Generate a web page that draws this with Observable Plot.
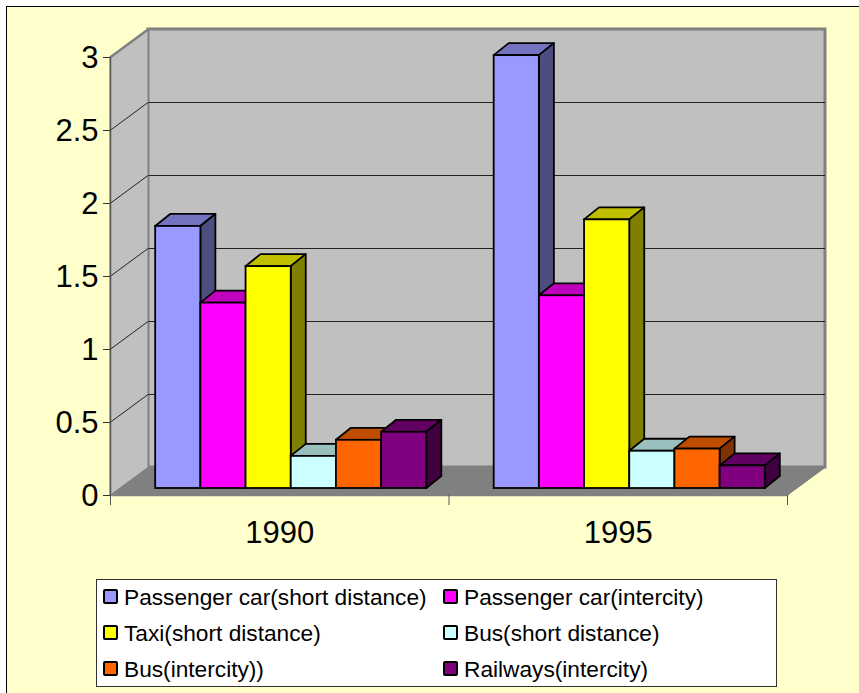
<!DOCTYPE html>
<html>
<head>
<meta charset="utf-8">
<script src="https://cdn.jsdelivr.net/npm/d3@7"></script>
<script src="https://cdn.jsdelivr.net/npm/@observablehq/plot@0.6"></script>
<style>
  html, body { margin: 0; padding: 0; background: #fff; overflow: hidden; }
  #page { position: relative; width: 859px; height: 693px; overflow: hidden; font-family: "Liberation Sans", Arial, sans-serif; }
  #sheet { position: absolute; left: 6px; top: 6px; right: 0; bottom: 0; background: #FFFFCC; border-left: 1px solid #000; border-top: 1px solid #000; }
  #chart { position: absolute; left: 0; top: 0; }
  #chart svg { display: block; background: transparent; overflow: visible; }
  #legend { position: absolute; left: 96px; top: 579px; width: 681px; height: 108px; box-sizing: border-box; background: #fff; border: 1px solid #333; }
  .item { position: absolute; height: 24px; line-height: 24px; font-size: 22.7px; color: #000; white-space: nowrap; padding-left: 27px; }
  .sw { position: absolute; left: 6px; top: 4px; width: 15px; height: 15px; box-sizing: border-box; border: 2px solid #000; border-radius: 2px; }
</style>
</head>
<body>
<div id="page"><div id="sheet"></div><div id="chart"></div><div id="legend"></div></div>
<script>
const years = ["1990", "1995"];
const seriesNames = ["Passenger car(short distance)", "Passenger car(intercity)", "Taxi(short distance)", "Bus(short distance)", "Bus(intercity))", "Railways(intercity)"];
const seriesColors = ["#9999FF", "#FF00FF", "#FFFF00", "#CCFFFF", "#FF6600", "#800080"];
const values1990 = [1.795, 1.27, 1.52, 0.22, 0.33, 0.385];
const values1995 = [2.965, 1.32, 1.84, 0.255, 0.27, 0.155];
const yTicks = [0, 0.5, 1, 1.5, 2, 2.5, 3];
const gridValues = [0.5, 1, 1.5, 2, 2.5];

// Bars sit on a category axis where each year occupies one unit of x
const barWidth = 0.1335;
const groupPad = (1 - seriesNames.length * barWidth) / 2;
const rows = [];
years.forEach((year, g) => {
  const vals = g === 0 ? values1990 : values1995;
  seriesNames.forEach((name, s) => rows.push({
    year, name, value: vals[s],
    x1: g + groupPad + s * barWidth,
    x2: g + groupPad + (s + 1) * barWidth
  }));
});

const NS = "http://www.w3.org/2000/svg";
function poly(points, fill, stroke, strokeWidth) {
  const p = document.createElementNS(NS, "polygon");
  p.setAttribute("points", points.map(d => d.join(",")).join(" "));
  p.setAttribute("fill", fill);
  p.setAttribute("stroke", stroke);
  p.setAttribute("stroke-width", strokeWidth);
  p.setAttribute("stroke-linejoin", "round");
  return p;
}
function shade(color, k) {
  const c = d3.rgb(color);
  return d3.rgb(c.r * k, c.g * k, c.b * k).formatHex();
}

// Depth of the room and of the bars, in pixels
const roomDX = 38, roomDY = -28;
const barDX = 15, barDY = -12;

// Left wall and floor, derived from the scales
function roomFaces(index, scales, values, dims, context, next) {
  const g = next(index, scales, values, dims, context);
  const L = scales.x(0), R = scales.x(years.length);
  const y0 = scales.y(0), y3 = scales.y(3);
  g.prepend(
    poly([[L, y0], [L + roomDX, y0 + roomDY], [L + roomDX, y3 + roomDY], [L, y3]], "#C0C0C0", "#808080", 1),
    poly([[L, y0], [R, y0], [R + roomDX, y0 + roomDY], [L + roomDX, y0 + roomDY]], "#808080", "#808080", 1)
  );
  return g;
}
// Turns each rule into the slanted gridline on the left wall
function slantRules(index, scales, values, dims, context, next) {
  const g = next(index, scales, values, dims, context);
  g.querySelectorAll("line").forEach(l => {
    const x = +l.getAttribute("x1"), y = +l.getAttribute("y1");
    l.setAttribute("x2", x + roomDX);
    l.setAttribute("y2", y + roomDY);
  });
  return g;
}
// Adds the top and side face behind each front rectangle
function boxFaces(index, scales, values, dims, context, next) {
  const g = next(index, scales, values, dims, context);
  [...g.querySelectorAll("rect")].forEach((r) => {
    const x = +r.getAttribute("x"), y = +r.getAttribute("y");
    const w = +r.getAttribute("width"), h = +r.getAttribute("height");
    const f = r.getAttribute("fill");
    const top = poly([[x, y], [x + barDX, y + barDY], [x + w + barDX, y + barDY], [x + w, y]], shade(f, 0.75), "#000", 1.8);
    const side = poly([[x + w, y], [x + w + barDX, y + barDY], [x + w + barDX, y + h + barDY], [x + w, y + h]], shade(f, 0.5), "#000", 1.8);
    g.insertBefore(top, r);
    g.insertBefore(side, r);
  });
  return g;
}

const chart = Plot.plot({
  width: 859,
  height: 693,
  marginTop: 57,
  marginBottom: 198,
  marginLeft: 110,
  marginRight: 72,
  style: {background: "transparent", fontFamily: "'Liberation Sans', Arial, sans-serif", color: "#000"},
  x: {domain: [0, years.length]},
  y: {domain: [0, 3]},
  color: {domain: seriesNames, range: seriesColors},
  marks: [
    Plot.rect([0], {y1: () => 0, y2: () => 3, dx: roomDX, dy: roomDY, fill: "#C0C0C0", stroke: "#808080", strokeWidth: 3}),
    Plot.ruleY(gridValues, {dx: roomDX, dy: roomDY, stroke: "#222", strokeWidth: 1}),
    Plot.ruleY([0], {stroke: "#808080", strokeWidth: 1.5, render: roomFaces}),
    Plot.ruleY(gridValues, {stroke: "#222", strokeWidth: 1, render: slantRules}),
    Plot.ruleY([3], {stroke: "#808080", strokeWidth: 2.5, render: slantRules}),
    Plot.ruleX([0], {y1: 0, y2: 3, stroke: "#555", strokeWidth: 1.5}),
    Plot.axisY({ticks: yTicks, tickSize: 7, tickFormat: () => "", label: null, stroke: "#333"}),
    Plot.axisY({ticks: yTicks, tickSize: 0, tickPadding: 12, tickFormat: d => String(d), fontSize: 31, label: null, dy: 1}),
    Plot.axisX({ticks: d3.range(years.length + 1), tickSize: 10, tickFormat: () => "", label: null, stroke: "#555"}),
    Plot.axisX({ticks: years.map((_, i) => i + 0.5), tickSize: 0, tickPadding: 25, tickFormat: d => years[Math.floor(d)], fontSize: 31, label: null}),
    Plot.rect(rows, {
      x1: "x1", x2: "x2", y1: () => 0, y2: "value", fill: "name",
      stroke: "#000", strokeWidth: 1.8, dx: 11.5, dy: -7, render: boxFaces
    })
  ]
});
document.getElementById("chart").appendChild(chart);

const legend = document.getElementById("legend");
const tops = [5, 41, 77];
const lefts = [0, 340];
seriesNames.forEach((name, i) => {
  const it = document.createElement("div");
  it.className = "item";
  it.style.left = lefts[i % 2] + "px";
  it.style.top = tops[Math.floor(i / 2)] + "px";
  const sw = document.createElement("span");
  sw.className = "sw";
  sw.style.background = seriesColors[i];
  it.appendChild(sw);
  it.appendChild(document.createTextNode(name));
  legend.appendChild(it);
});
</script>
</body>
</html>
